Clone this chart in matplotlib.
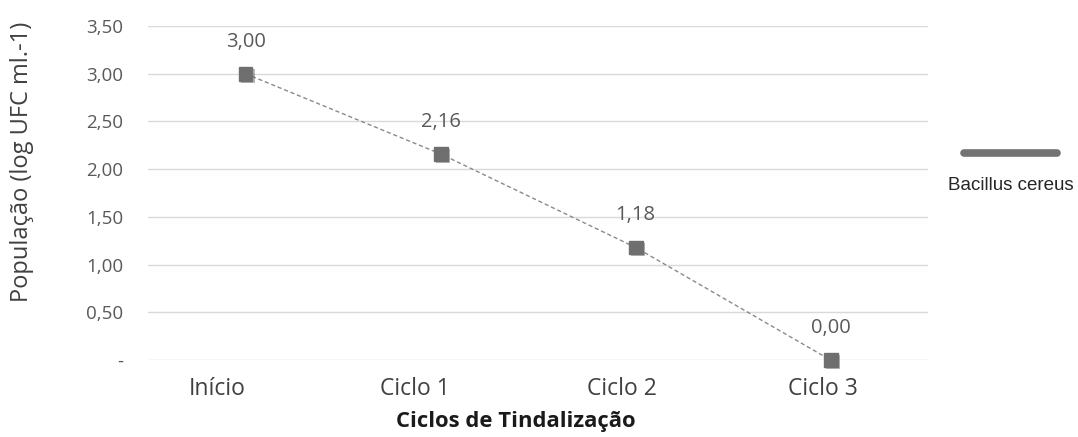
import matplotlib
matplotlib.use("Agg")
import matplotlib.pyplot as plt
import matplotlib.patheffects as pe
from matplotlib.transforms import ScaledTranslation

categories = ["Início", "Ciclo 1", "Ciclo 2", "Ciclo 3"]
values = [3.00, 2.16, 1.18, 0.00]
series_name = "Bacillus cereus"
yticks = [0, 0.5, 1.0, 1.5, 2.0, 2.5, 3.0, 3.5]
ytick_labels = ["-", "0,50", "1,00", "1,50", "2,00", "2,50", "3,00", "3,50"]

FONT = ["Open Sans", "DejaVu Sans"]
TXT = "#595959"

fig = plt.figure(figsize=(10.78, 4.37), dpi=100)
ax = fig.add_axes([0.1373, 0.176, 0.861 - 0.1373, 0.9405 - 0.176])

x = list(range(len(categories)))
shadow = [pe.SimplePatchShadow(offset=(1.5, -1.5), alpha=0.35, rho=0.5), pe.Normal()]
ax.plot(x, values, color="#8a8a8a", lw=1.0, ls=(0, (3, 2)), zorder=3, clip_on=False)
ax.plot(x, values, ls="none", marker="s", ms=10, color="#6f6f6f",
        mec="#6f6f6f", zorder=4, path_effects=shadow, clip_on=False)

for xi, v in zip(x, values):
    ax.annotate(f"{v:.2f}".replace(".", ","), (xi, v), xytext=(0, 19.5),
                textcoords="offset points", ha="center", va="baseline",
                fontsize=14.5, color=TXT, family=FONT)

ax.set_xlim(-0.5, len(categories) - 0.5)
ax.set_ylim(0, 3.5)
ax.set_yticks(yticks)
ax.set_yticklabels(ytick_labels, fontsize=13.5, color=TXT, family=FONT)
ax.set_xticks(x)
ax.set_xticklabels(categories, fontsize=16.5, color="#404040", family=FONT)
ax.tick_params(length=0)
ax.tick_params(axis="y", pad=18)
ax.tick_params(axis="x", pad=12)
ax.yaxis.grid(True, color="#d9d9d9", lw=1.0)
ax.set_axisbelow(True)
for s in ax.spines.values():
    s.set_visible(False)

# category labels sit slightly left of their markers in the reference
label_shift_px = [-28, -26, -14, -8]
for lab, dx in zip(ax.get_xticklabels(), label_shift_px):
    lab.set_transform(lab.get_transform() + ScaledTranslation(dx / 100, 0, fig.dpi_scale_trans))

fig.text(516 / 1078, 1 - 421 / 437, "Ciclos de Tindalização", ha="center",
         va="center", fontsize=15.8, fontweight="bold", color="#1a1a1a", family=FONT)
fig.text(22 / 1078, 1 - 162 / 437, "População (log UFC ml.-1)", ha="center",
         va="center", rotation=90, fontsize=17, color="#404040", family=FONT)

# legend
fig.add_artist(plt.Line2D([964 / 1078, 1057 / 1078], [1 - 153 / 437] * 2,
                          color="#737373", lw=5.5, solid_capstyle="round",
                          transform=fig.transFigure))
fig.text(1011 / 1078, 1 - 185 / 437, series_name, ha="center", va="center",
         fontsize=13.5, color="#262626", family=["Liberation Sans", "DejaVu Sans"])

fig.savefig("out.png", dpi=100)
